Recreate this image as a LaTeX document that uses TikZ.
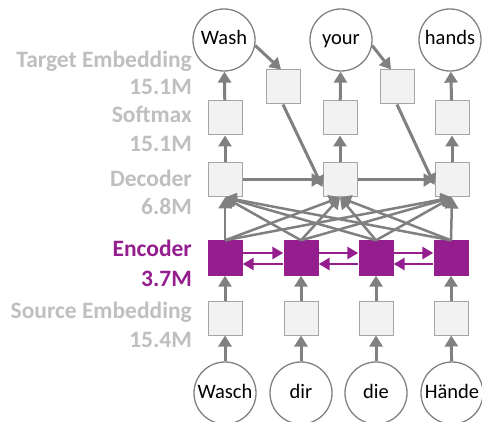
\documentclass[tikz,border=0pt]{standalone}
\usepackage{fontspec}
\setmainfont{Carlito}
\usetikzlibrary{arrows.meta}

\definecolor{flowgray}{RGB}{128,128,128}
\definecolor{ringgray}{RGB}{128,128,128}
\definecolor{cellline}{RGB}{165,165,165}
\definecolor{cellfill}{RGB}{242,242,242}
\definecolor{labelgray}{RGB}{191,191,191}
\definecolor{encpurple}{RGB}{148,30,142}

\tikzset{
  word/.style={circle, draw=ringgray, line width=1.3pt, fill=white,
    minimum size=62pt, inner sep=0pt, text height=14pt, text depth=4pt,
    font=\fontsize{20.5}{24}\selectfont},
  cell/.style={rectangle, draw=cellline, fill=cellfill, line width=1pt,
    minimum size=34pt, inner sep=0pt},
  encbox/.style={rectangle, fill=encpurple, minimum size=35pt, inner sep=0pt},
  flow/.style={draw=flowgray, line width=3pt,
    -{Triangle[length=11pt,width=13pt]}},
  encflow/.style={draw=encpurple, line width=2.8pt,
    -{Triangle[length=11pt,width=12pt]}},
  sizelabel/.style={anchor=base east, inner sep=0pt, text=labelgray,
    font=\fontsize{23.5}{26}\selectfont\bfseries},
}

\begin{document}
\begin{tikzpicture}[x=1pt,y=-1pt]
\useasboundingbox (0,0) rectangle (482,422);

% layer size labels
\node[sizelabel] (lte)  at (192,68)  {Target Embedding};
\node[sizelabel] (lten) at (192,95)  {15.1M};
\node[sizelabel] (lsm)  at (192,123) {Softmax};
\node[sizelabel] (lsmn) at (192,152) {15.1M};
\node[sizelabel] (ldec) at (192,187) {Decoder};
\node[sizelabel] (ldecn) at (192,215) {6.8M};
\node[sizelabel, text=encpurple] (lenc)  at (192,257) {Encoder};
\node[sizelabel, text=encpurple] (lencn) at (192,287) {3.7M};
\node[sizelabel] (lse)  at (192,318) {Source Embedding};
\node[sizelabel] (lsen) at (192,347) {15.4M};

% output words
\node[word] (w1) at (224,40) {Wash};
\node[word] (w2) at (341,40) {your};
\node[word] (w3) at (450,40) {hands};

% target embeddings
\node[cell] (t1) at (283,87) {};
\node[cell] (t2) at (397,87) {};

% softmax
\node[cell] (s1) at (225,118) {};
\node[cell] (s2) at (340,118) {};
\node[cell] (s3) at (452,118) {};

% decoder
\node[cell] (d1) at (225,180) {};
\node[cell] (d2) at (340,180) {};
\node[cell] (d3) at (452,180) {};

% encoder
\node[encbox] (e1) at (225,258) {};
\node[encbox] (e2) at (301,258) {};
\node[encbox] (e3) at (376,258) {};
\node[encbox] (e4) at (451,258) {};

% source embeddings
\node[cell] (m1) at (225,318) {};
\node[cell] (m2) at (301,318) {};
\node[cell] (m3) at (376,318) {};
\node[cell] (m4) at (451,318) {};

% input words
\node[word] (i1) at (225,393) {Wasch};
\node[word] (i2) at (301,393) {dir};
\node[word] (i3) at (376,393) {die};
\node[word] (i4) at (452,393) {Hände};

% source side
\foreach \k in {1,2,3,4} {
  \draw[flow] (i\k) -- (m\k);
  \draw[flow] (m\k) -- (e\k);
}

% encoder recurrences
\foreach \a/\b in {1/2,2/3,3/4} {
  \draw[encflow] ([yshift=5pt]e\a.east) -- ([yshift=5pt]e\b.west);
  \draw[encflow] ([yshift=-6pt]e\b.west) -- ([yshift=-6pt]e\a.east);
}

% attention from every encoder state to every decoder state
\foreach \j in {1,2,3,4} {
  \foreach \k in {1,2,3} {
    \draw[flow, line width=2.5pt] (e\j.north) -- (d\k.south);
  }
}

% decoder recurrence
\draw[flow] (d1) -- (d2);
\draw[flow] (d2) -- (d3);

% decoder to outputs
\foreach \k in {1,2,3} {
  \draw[flow] (d\k) -- (s\k);
  \draw[flow] (s\k) -- (w\k);
}

% previous word fed back
\draw[flow] (w1.-10) -- ([xshift=-2pt]t1.north);
\draw[flow] (w2.-10) -- ([xshift=-6pt]t2.north);
\draw[flow] (t1.south) -- ([yshift=-7pt]d2.west);
\draw[flow] (t2.south) -- ([yshift=-5pt]d3.west);
\end{tikzpicture}
\end{document}
